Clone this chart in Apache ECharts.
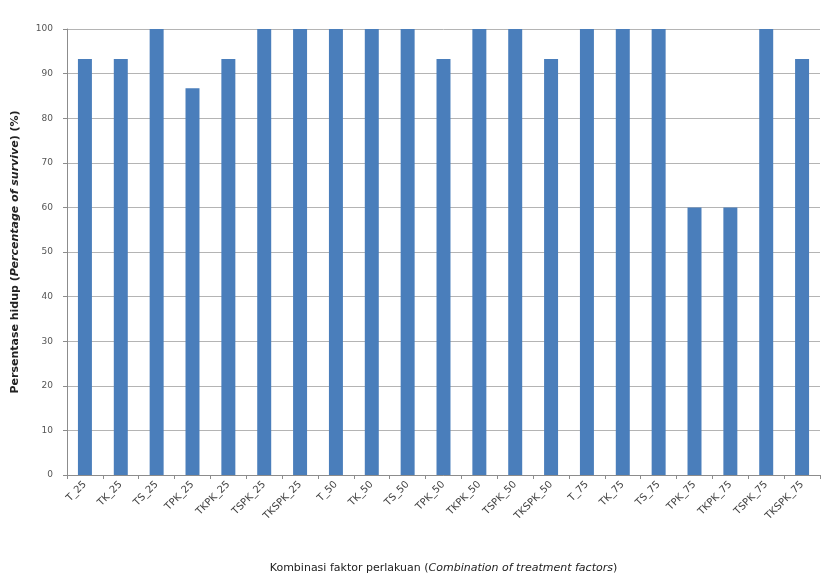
<!DOCTYPE html>
<html><head><meta charset="utf-8">
<script src="https://cdn.jsdelivr.net/npm/echarts@6/dist/echarts.min.js"></script>
<style>html,body{margin:0;padding:0;background:#fff}#c{width:821px;height:582px}</style>
</head><body><div id="c"></div>
<script>
const categories = ["T_25","TK_25","TS_25","TPK_25","TKPK_25","TSPK_25","TKSPK_25",
  "T_50","TK_50","TS_50","TPK_50","TKPK_50","TSPK_50","TKSPK_50",
  "T_75","TK_75","TS_75","TPK_75","TKPK_75","TSPK_75","TKSPK_75"];
const survival = [93.3,93.3,100,86.7,93.3,100,100,100,100,100,93.3,100,100,93.3,100,100,100,60,60,100,93.3];
const yTicks = [0,10,20,30,40,50,60,70,80,90,100];

const chart = echarts.init(document.getElementById('c'), null, {renderer:'canvas'});
chart.setOption({
  animation:false,
  backgroundColor:'#fff',
  grid:{left:67,right:1,top:29,bottom:107},
  xAxis:{
    type:'category', data:categories,
    axisLine:{lineStyle:{color:'#8c8c8c'}},
    axisTick:{show:true,length:4,lineStyle:{color:'#8c8c8c'}},
    axisLabel:{rotate:45,fontSize:10,color:'#444',fontFamily:'DejaVu Sans',margin:8},
    name:'{n|Kombinasi faktor perlakuan (}{i|Combination of treatment factors}{n|)}',
    nameLocation:'middle', nameGap:88,
    nameTextStyle:{rich:{n:{fontSize:11,color:'#222',fontFamily:'DejaVu Sans'},i:{fontSize:11,color:'#222',fontStyle:'italic',fontFamily:'DejaVu Sans'}}}
  },
  yAxis:{
    type:'value', min:yTicks[0], max:yTicks[yTicks.length-1], interval:10,
    axisLine:{show:true,lineStyle:{color:'#8c8c8c'}},
    axisTick:{show:true,length:4,lineStyle:{color:'#8c8c8c'}},
    splitLine:{lineStyle:{color:'#b4b4b4'}},
    axisLabel:{fontSize:9,color:'#555',fontFamily:'DejaVu Sans',margin:14},
    name:'{n|Persentase hidup (}{i|Percentage of survive}{n|) (%)}',
    nameLocation:'middle', nameGap:46, nameRotate:90,
    nameTextStyle:{rich:{n:{fontSize:11,fontWeight:'bold',color:'#222',fontFamily:'DejaVu Sans'},i:{fontSize:11,fontWeight:'bold',fontStyle:'italic',color:'#222',fontFamily:'DejaVu Sans'}}}
  },
  series:[{type:'bar',data:survival,barWidth:'39%',itemStyle:{color:'#4a7ebb'}}]
});
</script></body></html>
